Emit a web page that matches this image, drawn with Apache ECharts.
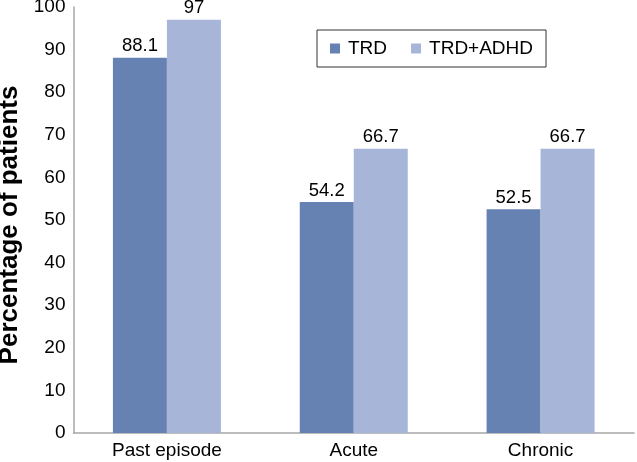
<!DOCTYPE html>
<html><head><meta charset="utf-8">
<script src="https://cdn.jsdelivr.net/npm/echarts@6/dist/echarts.min.js"></script>
<style>html,body{margin:0;padding:0;background:#fff}#c{width:637px;height:462px}</style>
</head><body><div id="c"></div>
<script>
var categories = ['Past episode', 'Acute', 'Chronic'];
var trd = [88.1, 54.2, 52.5];
var trdAdhd = [97, 66.7, 66.7];
var seriesNames = ['TRD', 'TRD+ADHD'];
var yTicks = {min: 0, max: 100, interval: 10};

var chart = echarts.init(document.getElementById('c'));
var font = 'Liberation Sans, Arial, sans-serif';
chart.setOption({
  animation: false,
  grid: {left: 73.5, right: 3, top: 7, bottom: 29, containLabel: false, outerBoundsMode: 'none'},
  legend: {
    data: seriesNames, left: 317, top: 30,
    padding: [9, 13, 9, 13], borderColor: '#333', borderWidth: 1,
    itemWidth: 10, itemHeight: 10, itemGap: 24, icon: 'rect',
    textStyle: {fontFamily: font, fontSize: 19, color: '#000', padding: [0, 0, 0, 3]}
  },
  xAxis: {
    type: 'category', data: categories,
    axisLine: {lineStyle: {color: '#a6a6a6', width: 1.5}},
    axisTick: {show: false},
    axisLabel: {fontFamily: font, fontSize: 19, color: '#000', margin: 8}
  },
  yAxis: {
    type: 'value', min: yTicks.min, max: yTicks.max, interval: yTicks.interval,
    name: 'Percentage of patients', nameLocation: 'middle', nameGap: 50,
    nameTextStyle: {fontFamily: font, fontSize: 26, fontWeight: 'bold', color: '#000', padding: [0, 10, 0, 0]},
    axisLine: {show: true, lineStyle: {color: '#a6a6a6', width: 1.5}},
    axisTick: {show: false},
    splitLine: {show: false},
    axisLabel: {fontFamily: font, fontSize: 19, color: '#000', margin: 8}
  },
  series: [
    {name: seriesNames[0], type: 'bar', data: trd, barWidth: 54, barGap: '0%',
     itemStyle: {color: '#6582b3'},
     label: {show: true, position: 'top', fontFamily: font, fontSize: 18.5, color: '#000', distance: 2}},
    {name: seriesNames[1], type: 'bar', data: trdAdhd, barWidth: 54, barGap: '0%',
     itemStyle: {color: '#a7b6d8'},
     label: {show: true, position: 'top', fontFamily: font, fontSize: 18.5, color: '#000', distance: 2}}
  ]
});
</script></body></html>
